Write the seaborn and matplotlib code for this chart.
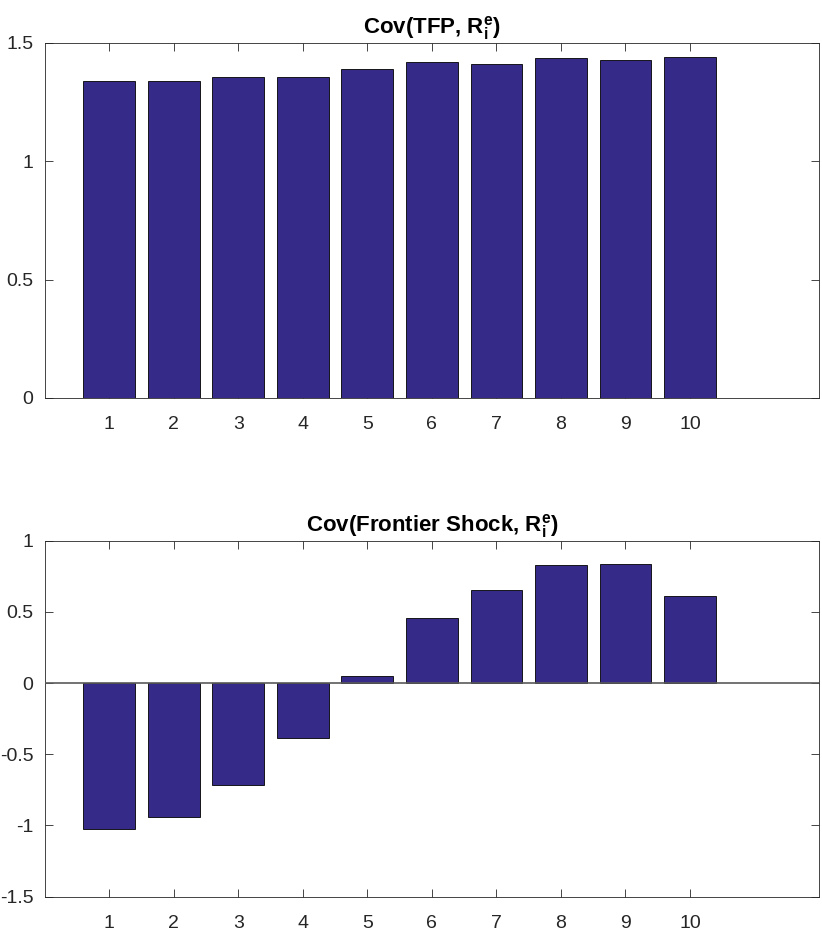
import matplotlib
matplotlib.use("Agg")
import matplotlib.pyplot as plt
import pandas as pd
import seaborn as sns

# data
portfolio = [1, 2, 3, 4, 5, 6, 7, 8, 9, 10]
cov_tfp = [1.340, 1.340, 1.355, 1.355, 1.389, 1.418, 1.412, 1.438, 1.428, 1.439]
cov_frontier = [-1.027, -0.939, -0.716, -0.384, 0.049, 0.459, 0.651, 0.831, 0.836, 0.612]

titles = [
    r"Cov(TFP, R$_\mathbf{i}^\mathbf{e}$)",
    r"Cov(Frontier Shock, R$_\mathbf{i}^\mathbf{e}$)",
]
ylims = [(0, 1.5), (-1.5, 1)]
yticks = [[0, 0.5, 1, 1.5], [-1.5, -1, -0.5, 0, 0.5, 1]]
ytick_labels = [["0", "0.5", "1", "1.5"], ["-1.5", "-1", "-0.5", "0", "0.5", "1"]]

BAR = "#352A87"
AX = "#262626"

sns.set_theme(style="white")
plt.rcParams["font.family"] = ["Liberation Sans", "DejaVu Sans"]
plt.rcParams["mathtext.fontset"] = "custom"
plt.rcParams["mathtext.bf"] = "Liberation Sans:bold"
plt.rcParams["mathtext.rm"] = "Liberation Sans:bold"
plt.rcParams["axes.unicode_minus"] = False

fig = plt.figure(figsize=(8.22, 9.32), dpi=100)
positions = [[0.0543, 0.573, 0.9421, 0.381], [0.0543, 0.0379, 0.9421, 0.382]]

for i, vals in enumerate([cov_tfp, cov_frontier]):
    ax = fig.add_axes(positions[i])
    df = pd.DataFrame({"p": portfolio, "v": vals})
    sns.barplot(data=df, x="p", y="v", native_scale=True, color=BAR, saturation=1,
                edgecolor="black", linewidth=0.6, errorbar=None, ax=ax, zorder=2)
    if i == 1:
        ax.axhline(0, color="#5a5a5a", lw=1.2, zorder=3)
    ax.set_xlim(0, 12)
    ax.set_ylim(*ylims[i])
    ax.set_xticks(portfolio)
    ax.set_xticklabels([str(p) for p in portfolio])
    ax.set_yticks(yticks[i])
    ax.set_yticklabels(ytick_labels[i])
    ax.set_xlabel("")
    ax.set_ylabel("")
    ax.set_title(titles[i], fontsize=16, fontweight="bold", color="black", pad=7)
    ax.tick_params(direction="in", length=5.5, width=0.6, color=AX, labelcolor=AX,
                   labelsize=14, top=True, right=True, bottom=True, left=True)
    ax.tick_params(axis="x", pad=13)
    ax.tick_params(axis="y", pad=8)
    for s in ax.spines.values():
        s.set_visible(True)
        s.set_color(AX)
        s.set_linewidth(0.6)
    ax.grid(False)

fig.savefig("out.png", dpi=100)
